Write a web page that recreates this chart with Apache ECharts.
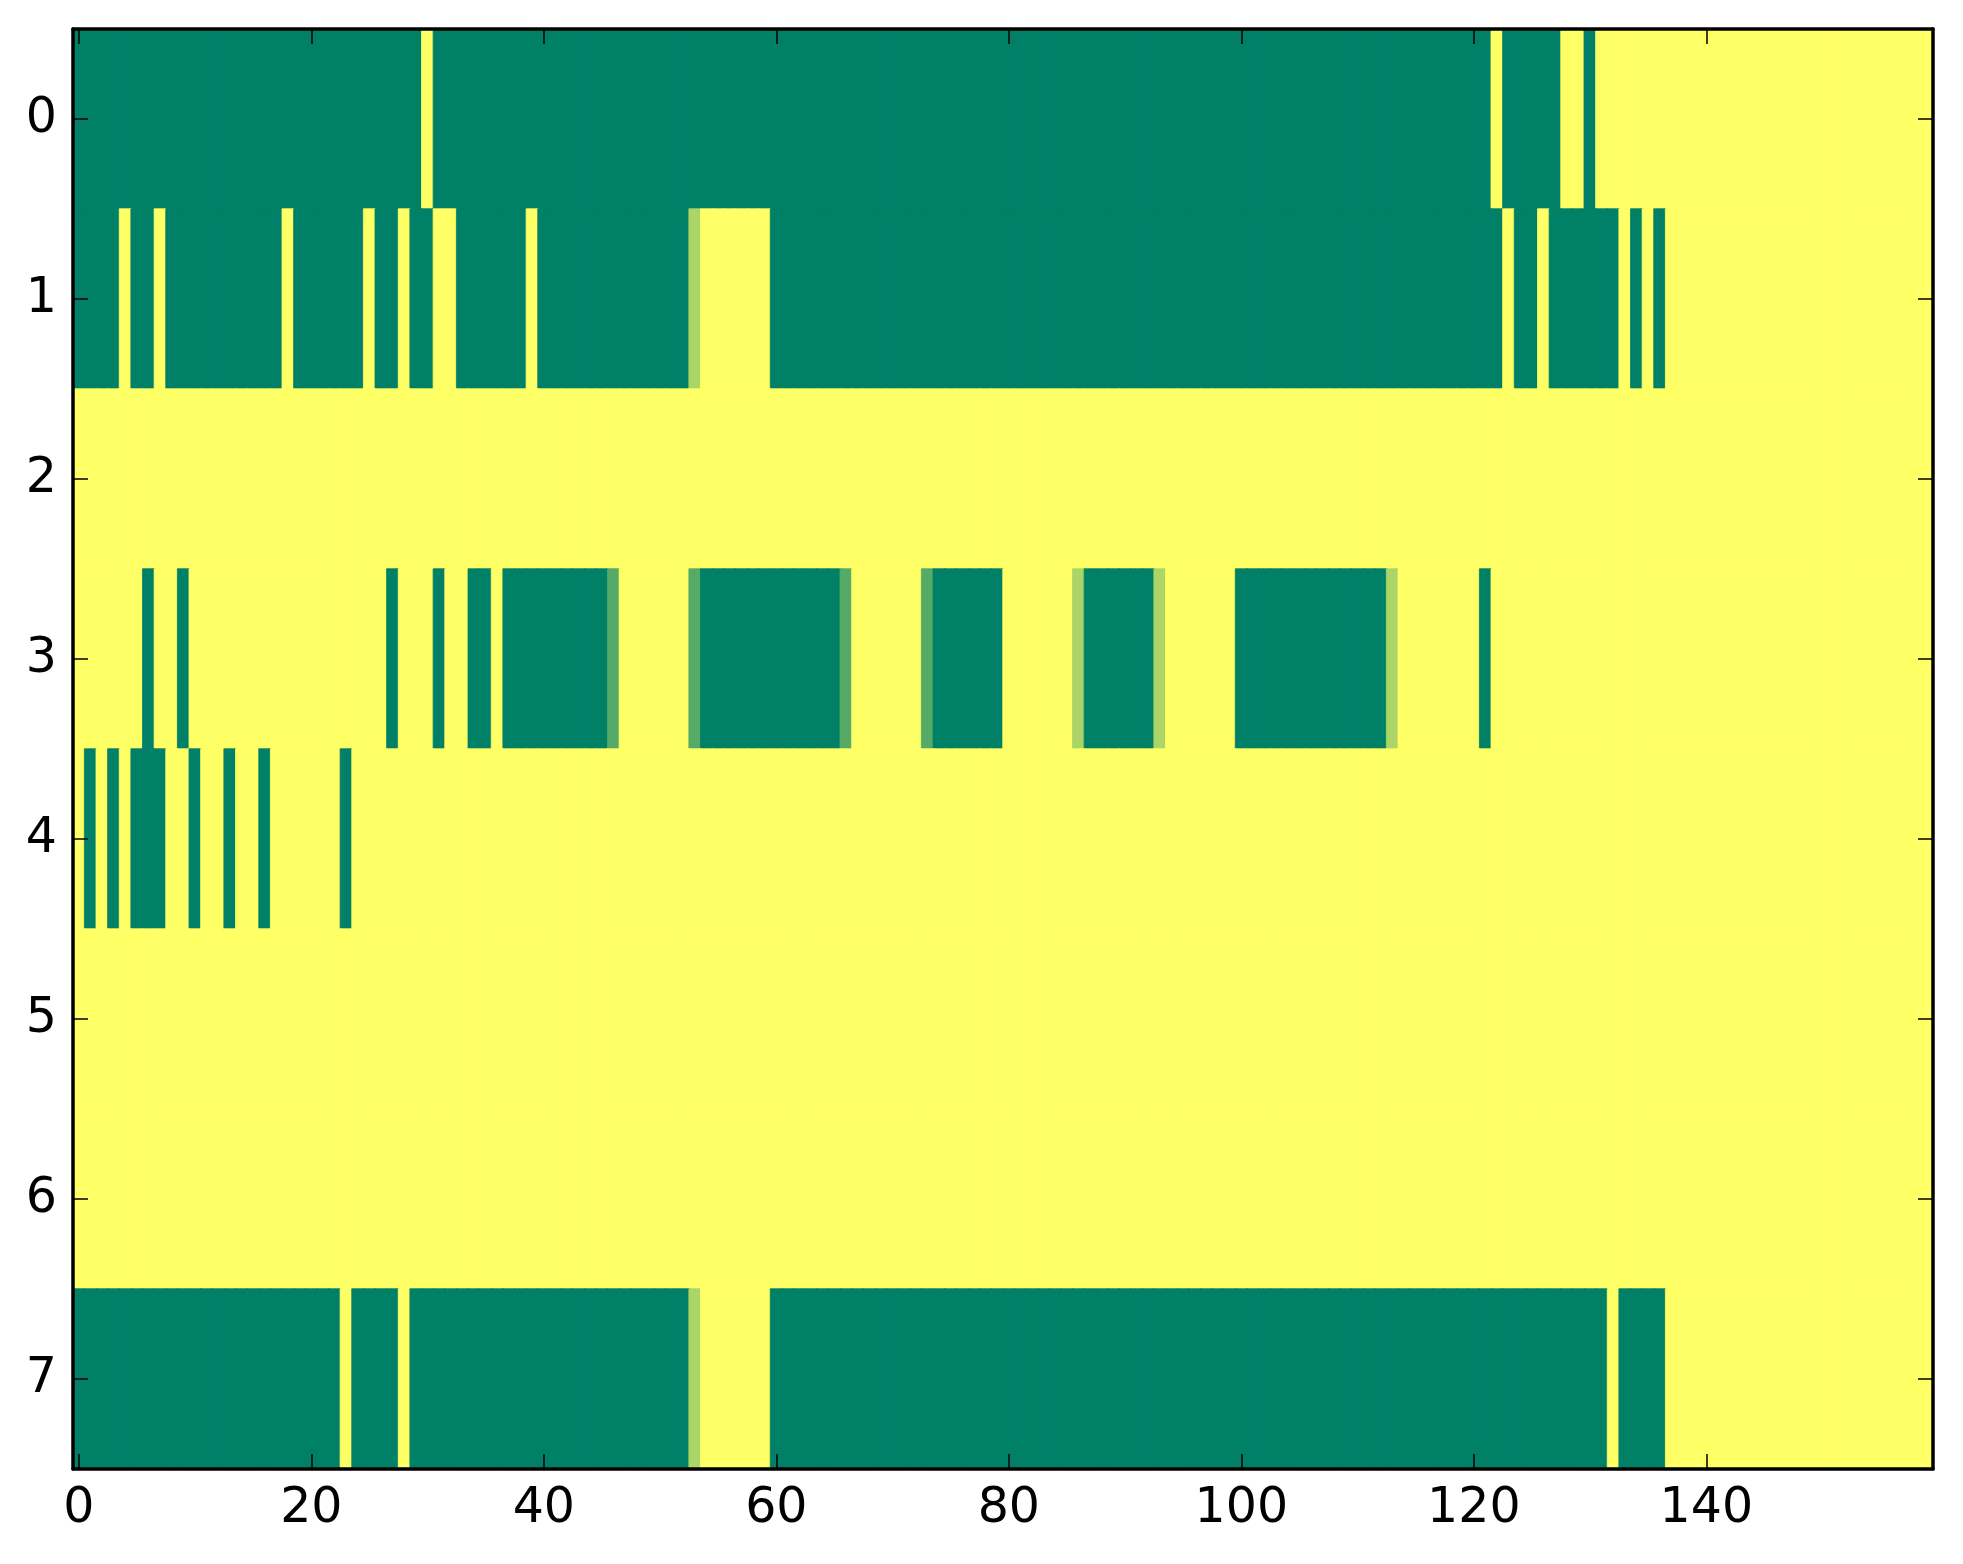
<!DOCTYPE html>
<html><head><meta charset="utf-8">
<script src="https://cdn.jsdelivr.net/npm/echarts@6/dist/echarts.min.js"></script>
<style>html,body{margin:0;padding:0;background:#fff}#c{width:1963px;height:1564px}</style>
</head><body><div id="c"></div>
<script>
// values per row (0 = dark green, 1 = yellow), 160 columns each, 10 per line
const row0 = [
0,0,0,0,0,0,0,0,0,0, 0,0,0,0,0,0,0,0,0,0, 0,0,0,0,0,0,0,0,0,0, 1,0,0,0,0,0,0,0,0,0,
0,0,0,0,0,0,0,0,0,0, 0,0,0,0,0,0,0,0,0,0, 0,0,0,0,0,0,0,0,0,0, 0,0,0,0,0,0,0,0,0,0,
0,0,0,0,0,0,0,0,0,0, 0,0,0,0,0,0,0,0,0,0, 0,0,0,0,0,0,0,0,0,0, 0,0,0,0,0,0,0,0,0,0,
0,0,1,0,0,0,0,0,1,1, 0,1,1,1,1,1,1,1,1,1, 1,1,1,1,1,1,1,1,1,1, 1,1,1,1,1,1,1,1,1,1];
const row1 = [
0,0,0,0,1,0,0,1,0,0, 0,0,0,0,0,0,0,0,1,0, 0,0,0,0,0,1,0,0,1,0, 0,1,1,0,0,0,0,0,0,1,
0,0,0,0,0,0,0,0,0,0, 0,0,0,0.67,1,1,1,1,1,1, 0,0,0,0,0,0,0,0,0,0, 0,0,0,0,0,0,0,0,0,0,
0,0,0,0,0,0,0,0,0,0, 0,0,0,0,0,0,0,0,0,0, 0,0,0,0,0,0,0,0,0,0, 0,0,0,0,0,0,0,0,0,0,
0,0,0,1,0,0,1,0,0,0, 0,0,0,1,0,1,0,1,1,1, 1,1,1,1,1,1,1,1,1,1, 1,1,1,1,1,1,1,1,1,1];
const row2 = [
1,1,1,1,1,1,1,1,1,1, 1,1,1,1,1,1,1,1,1,1, 1,1,1,1,1,1,1,1,1,1, 1,1,1,1,1,1,1,1,1,1,
1,1,1,1,1,1,1,1,1,1, 1,1,1,1,1,1,1,1,1,1, 1,1,1,1,1,1,1,1,1,1, 1,1,1,1,1,1,1,1,1,1,
1,1,1,1,1,1,1,1,1,1, 1,1,1,1,1,1,1,1,1,1, 1,1,1,1,1,1,1,1,1,1, 1,1,1,1,1,1,1,1,1,1,
1,1,1,1,1,1,1,1,1,1, 1,1,1,1,1,1,1,1,1,1, 1,1,1,1,1,1,1,1,1,1, 1,1,1,1,1,1,1,1,1,1];
const row3 = [
1,1,1,1,1,1,0,1,1,0, 1,1,1,1,1,1,1,1,1,1, 1,1,1,1,1,1,1,0,1,1, 1,0,1,1,0,0,1,0,0,0,
0,0,0,0,0,0,0.33,1,1,1, 1,1,1,0.33,0,0,0,0,0,0, 0,0,0,0,0,0,0.33,1,1,1, 1,1,1,0.33,0,0,0,0,0,0,
1,1,1,1,1,1,0.67,0,0,0, 0,0,0,0.67,1,1,1,1,1,1, 0,0,0,0,0,0,0,0,0,0, 0,0,0,0.67,1,1,1,1,1,1,
1,0,1,1,1,1,1,1,1,1, 1,1,1,1,1,1,1,1,1,1, 1,1,1,1,1,1,1,1,1,1, 1,1,1,1,1,1,1,1,1,1];
const row4 = [
1,0,1,0,1,0,0,0,1,1, 0,1,1,0,1,1,0,1,1,1, 1,1,1,0,1,1,1,1,1,1, 1,1,1,1,1,1,1,1,1,1,
1,1,1,1,1,1,1,1,1,1, 1,1,1,1,1,1,1,1,1,1, 1,1,1,1,1,1,1,1,1,1, 1,1,1,1,1,1,1,1,1,1,
1,1,1,1,1,1,1,1,1,1, 1,1,1,1,1,1,1,1,1,1, 1,1,1,1,1,1,1,1,1,1, 1,1,1,1,1,1,1,1,1,1,
1,1,1,1,1,1,1,1,1,1, 1,1,1,1,1,1,1,1,1,1, 1,1,1,1,1,1,1,1,1,1, 1,1,1,1,1,1,1,1,1,1];
const row5 = [
1,1,1,1,1,1,1,1,1,1, 1,1,1,1,1,1,1,1,1,1, 1,1,1,1,1,1,1,1,1,1, 1,1,1,1,1,1,1,1,1,1,
1,1,1,1,1,1,1,1,1,1, 1,1,1,1,1,1,1,1,1,1, 1,1,1,1,1,1,1,1,1,1, 1,1,1,1,1,1,1,1,1,1,
1,1,1,1,1,1,1,1,1,1, 1,1,1,1,1,1,1,1,1,1, 1,1,1,1,1,1,1,1,1,1, 1,1,1,1,1,1,1,1,1,1,
1,1,1,1,1,1,1,1,1,1, 1,1,1,1,1,1,1,1,1,1, 1,1,1,1,1,1,1,1,1,1, 1,1,1,1,1,1,1,1,1,1];
const row6 = [
1,1,1,1,1,1,1,1,1,1, 1,1,1,1,1,1,1,1,1,1, 1,1,1,1,1,1,1,1,1,1, 1,1,1,1,1,1,1,1,1,1,
1,1,1,1,1,1,1,1,1,1, 1,1,1,1,1,1,1,1,1,1, 1,1,1,1,1,1,1,1,1,1, 1,1,1,1,1,1,1,1,1,1,
1,1,1,1,1,1,1,1,1,1, 1,1,1,1,1,1,1,1,1,1, 1,1,1,1,1,1,1,1,1,1, 1,1,1,1,1,1,1,1,1,1,
1,1,1,1,1,1,1,1,1,1, 1,1,1,1,1,1,1,1,1,1, 1,1,1,1,1,1,1,1,1,1, 1,1,1,1,1,1,1,1,1,1];
const row7 = [
0,0,0,0,0,0,0,0,0,0, 0,0,0,0,0,0,0,0,0,0, 0,0,0,1,0,0,0,0,1,0, 0,0,0,0,0,0,0,0,0,0,
0,0,0,0,0,0,0,0,0,0, 0,0,0,0.67,1,1,1,1,1,1, 0,0,0,0,0,0,0,0,0,0, 0,0,0,0,0,0,0,0,0,0,
0,0,0,0,0,0,0,0,0,0, 0,0,0,0,0,0,0,0,0,0, 0,0,0,0,0,0,0,0,0,0, 0,0,0,0,0,0,0,0,0,0,
0,0,0,0,0,0,0,0,0,0, 0,0,1,0,0,0,0,1,1,1, 1,1,1,1,1,1,1,1,1,1, 1,1,1,1,1,1,1,1,1,1];

const xTickLabels = [0, 20, 40, 60, 80, 100, 120, 140];
const yCategories = ['0', '1', '2', '3', '4', '5', '6', '7'];
const colorRange = ['#008066', '#ffff66'];

const rows = [row0, row1, row2, row3, row4, row5, row6, row7];
const xCategories = row0.map((_, i) => String(i));
const data = [];
rows.forEach((row, r) => row.forEach((v, c) => {
  // a thin border of the cell's own colour hides anti-aliasing seams between cells
  data.push({ value: [c, r, v],
    itemStyle: { borderWidth: 0.8, borderColor: echarts.color.lerp(v, colorRange) } });
}));

const FONT = 'DejaVu Sans';
const showX = (idx) => xTickLabels.indexOf(idx) >= 0;
const axisLine = { show: true, onZero: false, lineStyle: { color: '#000', width: 3.5 } };
const tick = { show: true, inside: true, length: 15, lineStyle: { color: '#000', width: 1.5 } };

const chart = echarts.init(document.getElementById('c'), null, { renderer: 'canvas' });
chart.setOption({
  backgroundColor: '#fff',
  animation: false,
  grid: { left: 73, right: 30, top: 29, bottom: 95, containLabel: false },
  visualMap: { type: 'continuous', min: 0, max: 1, dimension: 2, show: false,
    inRange: { color: colorRange } },
  xAxis: [
    { type: 'category', data: xCategories, position: 'bottom', z: 10,
      axisLine: axisLine,
      axisTick: Object.assign({}, tick, { alignWithLabel: true, interval: (i) => showX(i) }),
      axisLabel: { interval: (i) => showX(i), fontFamily: FONT, fontSize: 49, color: '#000', margin: 16 },
      splitLine: { show: false } },
    { type: 'category', data: xCategories, position: 'top', z: 10,
      axisLine: axisLine,
      axisTick: Object.assign({}, tick, { alignWithLabel: true, interval: (i) => showX(i) }),
      axisLabel: { show: false }, splitLine: { show: false } }
  ],
  yAxis: [
    { type: 'category', data: yCategories, inverse: true, position: 'left', z: 10,
      axisLine: axisLine,
      axisTick: Object.assign({}, tick, { alignWithLabel: true, interval: 0 }),
      axisLabel: { fontFamily: FONT, fontSize: 49, color: '#000', margin: 16 },
      splitLine: { show: false } },
    { type: 'category', data: yCategories, inverse: true, position: 'right', z: 10,
      axisLine: axisLine,
      axisTick: Object.assign({}, tick, { alignWithLabel: true, interval: 0 }),
      axisLabel: { show: false }, splitLine: { show: false } }
  ],
  series: [{
    type: 'heatmap', xAxisIndex: 0, yAxisIndex: 0, data: data,
    emphasis: { disabled: true }
  }]
});
</script></body></html>
